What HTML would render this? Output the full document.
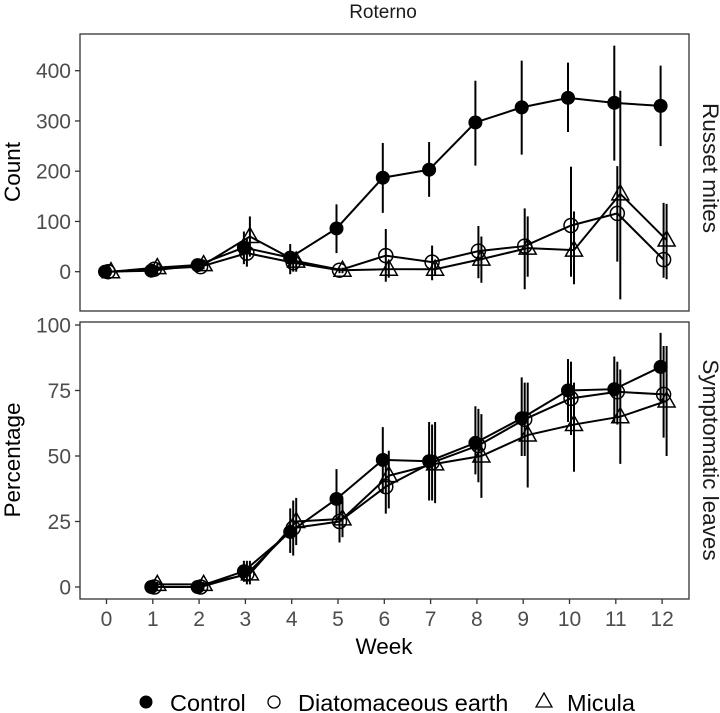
<!DOCTYPE html>
<html><head><meta charset="utf-8"><style>
html,body{margin:0;padding:0;background:#fff;}
svg{display:block;font-family:"Liberation Sans",Arial,sans-serif;}
</style></head><body>
<svg id="chart" width="720" height="713" viewBox="0 0 720 713" xmlns="http://www.w3.org/2000/svg">
<text x="383" y="18" font-size="19" text-anchor="middle" fill="#1a1a1a">Roterno</text>
<rect x="80" y="34" width="609" height="277" fill="none" stroke="#333" stroke-width="1.3"/>
<rect x="80" y="322" width="609" height="277" fill="none" stroke="#333" stroke-width="1.3"/>
<text transform="translate(703,168) rotate(90)" font-size="22.5" text-anchor="middle" fill="#1a1a1a">Russet mites</text>
<text transform="translate(703,460) rotate(90)" font-size="22.5" text-anchor="middle" fill="#1a1a1a">Symptomatic leaves</text>
<text transform="translate(20,172) rotate(-90)" font-size="22.5" text-anchor="middle" fill="#000">Count</text>
<text transform="translate(20,460) rotate(-90)" font-size="22.5" text-anchor="middle" fill="#000">Percentage</text>
<text x="384" y="654" font-size="22.5" text-anchor="middle" fill="#000">Week</text>
<g id="legend">
<circle cx="146" cy="702" r="6.5" fill="#000"/>
<text x="170" y="711" font-size="23.5" fill="#000">Control</text>
<circle cx="274" cy="702" r="6" fill="none" stroke="#000" stroke-width="1.3"/>
<text x="298" y="711" font-size="23.5" fill="#000">Diatomaceous earth</text>
<path d="M544,693 L552,707 L536,707 Z" fill="none" stroke="#000" stroke-width="1.3"/>
<text x="567" y="711" font-size="23.5" fill="#000">Micula</text>
</g>
<g id="plot"></g>
</svg>
<script>
const weeks=[0,1,2,3,4,5,6,7,8,9,10,11,12];
const countTicks=[0,100,200,300,400];
const pctTicks=[0,25,50,75,100];
// Top panel: Russet mites count
const ctrlCount=[0,2,13,48,28,86,187,203,297,327,346,336,330];
const ctrlCountLo=[-3,-3,5,15,-5,37,117,149,211,233,278,221,250];
const ctrlCountHi=[3,8,20,80,55,134,256,258,380,420,416,450,410];
const deCount=[0,5,10,37,18,3,32,19,41,51,92,116,24];
const deCountLo=[-3,0,3,10,0,-3,-20,-17,-13,-35,-10,20,-12];
const deCountHi=[3,10,18,65,38,8,85,52,91,126,209,210,137];
const micCount=[0,8,14,70,21,3,5,5,25,47,43,155,63];
const micCountLo=[-3,0,5,30,0,-3,-12,-8,-22,-10,-25,-55,-15];
const micCountHi=[3,16,24,110,40,8,20,18,70,110,120,360,135];
// Bottom panel: symptomatic leaves %
const pctWeeks=[1,2,3,4,5,6,7,8,9,10,11,12];
const ctrlPct=[0,0,6,21,33.6,48.5,48,55,64.4,75,75.5,84];
const ctrlPctLo=[0,0,2,13,25,36,33,43,50,63,63,70];
const ctrlPctHi=[0,0,10,30,45,61,63,69,80,87,88,97];
const dePct=[0,0,5,22.5,25,38.3,47.5,54,64,72,74.5,73.5];
const dePctLo=[0,0,1,12,17,28,33,40,50,58,62,57];
const dePctHi=[0,0,10,33,33,50,62,68,78,86,86,92];
const micPct=[1,1,5,25,26,42.5,47,50,58,62,65,71];
const micPctLo=[0,0,1,16,19,30,32,34,38,44,47,50];
const micPctHi=[2,2,10,34,33,52,63,66,78,78,83,92];

const NS="http://www.w3.org/2000/svg";
const plot=document.getElementById('plot');
const xS=w=>106.5+w*46.3;
const yTop=v=>271.7-v*(201/400);
const yBot=v=>587-v*(262/100);
function mk(tag,attrs,parent){const e=document.createElementNS(NS,tag);for(const k in attrs)e.setAttribute(k,attrs[k]);(parent||plot).appendChild(e);return e;}

countTicks.forEach(t=>{
  const l=mk('line',{x1:75,x2:80,y1:yTop(t),y2:yTop(t),stroke:'#333','stroke-width':1.3});
  
  
  const tx=mk('text',{x:71,y:yTop(t)+7.5,'font-size':21,'text-anchor':'end',fill:'#4d4d4d'});
  tx.textContent=t;
  
  
});
pctTicks.forEach(t=>{
  const l=mk('line',{x1:75,x2:80,y1:yBot(t),y2:yBot(t),stroke:'#333','stroke-width':1.3});
  
  
  const tx=mk('text',{x:71,y:yBot(t)+7.5,'font-size':21,'text-anchor':'end',fill:'#4d4d4d'});
  tx.textContent=t;
  
  
});
weeks.forEach(w=>{
  const l=mk('line',{x1:xS(w),x2:xS(w),y1:599,y2:604,stroke:'#333','stroke-width':1.3});
  
  
  const tx=mk('text',{x:xS(w),y:626,'font-size':21,'text-anchor':'middle',fill:'#4d4d4d'});
  tx.textContent=w;
  
  
});

function series(xs,vals,lo,hi,yf,off,shape,name){
  const g=mk('g',{});
  
  
  xs.forEach((w,i)=>{
    const e=mk('line',{x1:xS(w)+off,x2:xS(w)+off,y1:yf(lo[i]),y2:yf(hi[i]),stroke:'#000','stroke-width':2},g);
    
    
  });
  const pts=xs.map((w,i)=>(xS(w)+off)+','+yf(vals[i])).join(' ');
  const pl=mk('polyline',{points:pts,fill:'none',stroke:'#000','stroke-width':2},g);
  
  
  xs.forEach((w,i)=>{
    const x=xS(w)+off,y=yf(vals[i]);let m;
    if(shape==='fill') m=mk('circle',{cx:x,cy:y,r:7,fill:'#000'},g);
    else if(shape==='open') m=mk('circle',{cx:x,cy:y,r:7,fill:'none',stroke:'#000','stroke-width':1.5},g);
    else m=mk('path',{d:`M${x},${y-9} L${x+8.5},${y+6} L${x-8.5},${y+6} Z`,fill:'none',stroke:'#000','stroke-width':1.5},g);
    
    
  });
}
series(weeks,micCount,micCountLo,micCountHi,yTop,4.5,'tri','micula-count-series');
series(weeks,deCount,deCountLo,deCountHi,yTop,1.5,'open','de-count-series');
series(weeks,ctrlCount,ctrlCountLo,ctrlCountHi,yTop,-1.5,'fill','control-count-series');
series(pctWeeks,micPct,micPctLo,micPctHi,yBot,4.5,'tri','micula-pct-series');
series(pctWeeks,dePct,dePctLo,dePctHi,yBot,1.5,'open','de-pct-series');
series(pctWeeks,ctrlPct,ctrlPctLo,ctrlPctHi,yBot,-1.5,'fill','control-pct-series');
</script>
</body></html>
